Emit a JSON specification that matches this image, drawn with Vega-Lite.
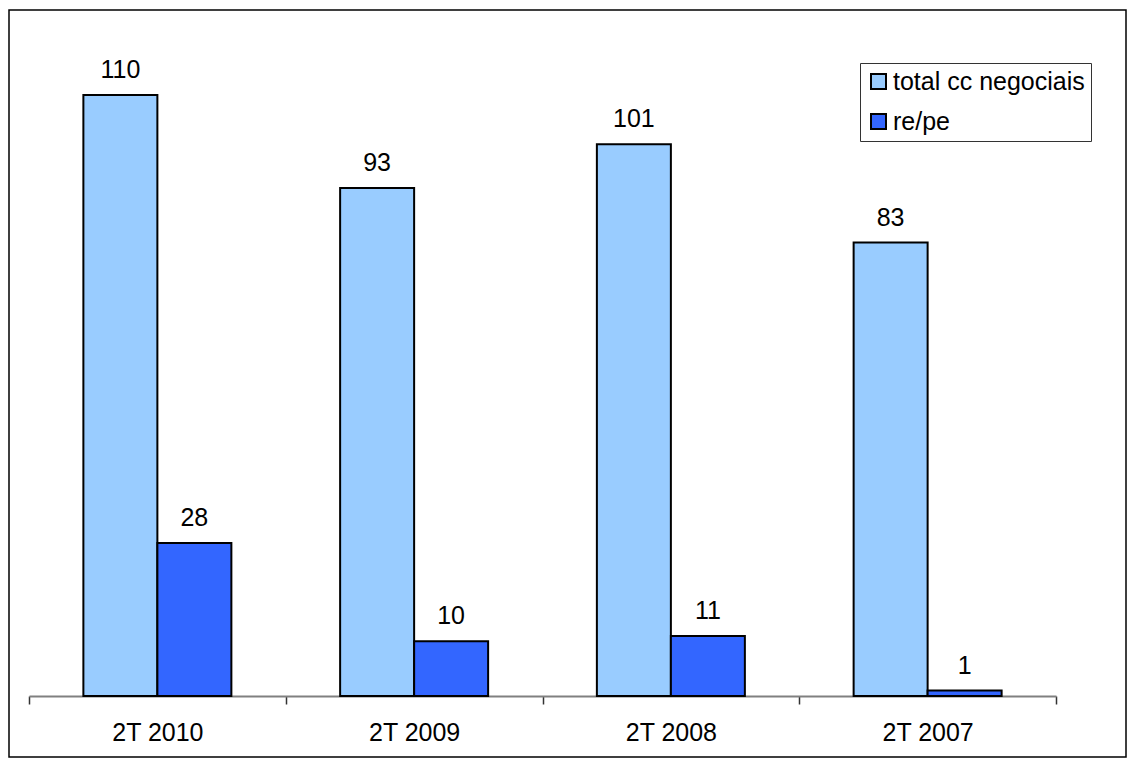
{
  "$schema": "https://vega.github.io/schema/vega-lite/v6.json",
  "width": 1117,
  "height": 747,
  "autosize": {"type": "none"},
  "padding": {"left": 9, "top": 10, "right": 9, "bottom": 10},
  "background": "white",
  "config": {
    "view": {"stroke": "black", "strokeWidth": 1.5},
    "font": "Liberation Sans"
  },
  "data": {
    "values": [
      {"periodo": "2T 2010", "serie": "total cc negociais", "valor": 110},
      {"periodo": "2T 2010", "serie": "re/pe", "valor": 28},
      {"periodo": "2T 2009", "serie": "total cc negociais", "valor": 93},
      {"periodo": "2T 2009", "serie": "re/pe", "valor": 10},
      {"periodo": "2T 2008", "serie": "total cc negociais", "valor": 101},
      {"periodo": "2T 2008", "serie": "re/pe", "valor": 11},
      {"periodo": "2T 2007", "serie": "total cc negociais", "valor": 83},
      {"periodo": "2T 2007", "serie": "re/pe", "valor": 1}
    ]
  },
  "encoding": {
    "x": {
      "field": "periodo",
      "type": "nominal",
      "sort": null,
      "scale": {"range": [20, 1047], "paddingInner": 0, "paddingOuter": 0},
      "axis": {
        "title": null,
        "labelAngle": 0,
        "labelFontSize": 25,
        "labelColor": "black",
        "labelPadding": 16,
        "offset": -61,
        "domainColor": "#808080",
        "domainWidth": 2,
        "tickColor": "#333333",
        "tickSize": 8,
        "tickWidth": 1.5,
        "tickBand": "extent"
      }
    },
    "xOffset": {
      "field": "serie",
      "type": "nominal",
      "sort": ["total cc negociais", "re/pe"],
      "scale": {"paddingInner": 0, "paddingOuter": 0.7348}
    },
    "y": {
      "field": "valor",
      "type": "quantitative",
      "scale": {"domain": [0, 120], "range": [686, 30.4], "nice": false},
      "axis": null
    }
  },
  "layer": [
    {
      "mark": {"type": "bar", "stroke": "black", "strokeWidth": 2},
      "encoding": {
        "color": {
          "field": "serie",
          "type": "nominal",
          "sort": ["total cc negociais", "re/pe"],
          "scale": {"domain": ["total cc negociais", "re/pe"], "range": ["#99CCFF", "#3366FF"]},
          "legend": {
            "title": null,
            "orient": "none",
            "legendX": 851,
            "legendY": 53,
            "direction": "vertical",
            "strokeColor": "#333333",
            "fillColor": "white",
            "padding": 6,
            "rowPadding": 14,
            "symbolType": "square",
            "symbolSize": 225,
            "symbolStrokeColor": "black",
            "symbolStrokeWidth": 2,
            "symbolOpacity": 1,
            "labelFontSize": 25,
            "labelColor": "black",
            "labelOffset": 2,
            "labelLimit": 400
          }
        }
      }
    },
    {
      "mark": {"type": "text", "baseline": "bottom", "dy": -12, "fontSize": 25, "color": "black"},
      "encoding": {
        "text": {"field": "valor", "type": "quantitative"}
      }
    }
  ]
}
